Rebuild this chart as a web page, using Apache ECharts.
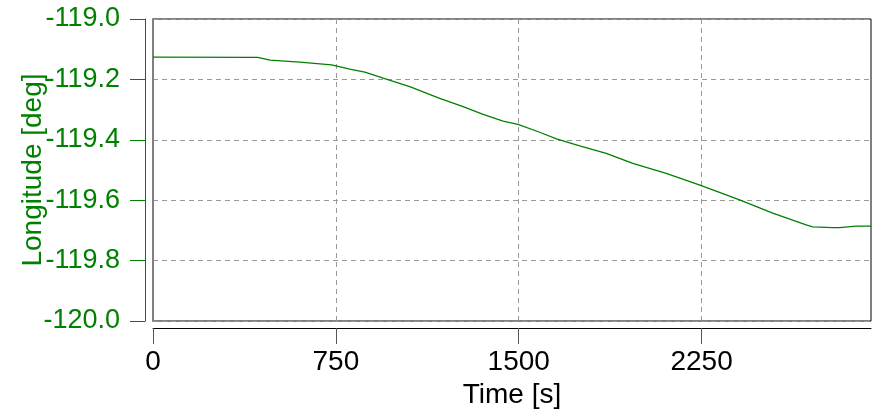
<!DOCTYPE html>
<html>
<head>
<meta charset="utf-8">
<script src="https://cdn.jsdelivr.net/npm/echarts@6/dist/echarts.min.js"></script>
<style>
html,body{margin:0;padding:0;background:#fff;}
#chart{width:874px;height:417px;}
</style>
</head>
<body>
<div id="chart"></div>
<script>
// Data
const timeS = [0, 430, 480, 602, 732, 807, 869, 944, 1053, 1176, 1272, 1354, 1436, 1497, 1586, 1655, 1750, 1859, 1968, 2105, 2249, 2406, 2542, 2679, 2706, 2788, 2816, 2884, 2945];
const longitudeDeg = [-119.126, -119.127, -119.136, -119.143, -119.152, -119.166, -119.176, -119.196, -119.224, -119.263, -119.290, -119.316, -119.338, -119.349, -119.375, -119.397, -119.420, -119.445, -119.478, -119.511, -119.552, -119.599, -119.643, -119.682, -119.688, -119.691, -119.691, -119.686, -119.686];
const xTicks = [0, 750, 1500, 2250];
const yMin = -120.0, yMax = -119.0, yStep = 0.2;
const xMin = 0, xMax = 2945, xStep = 750;
const xName = 'Time [s]';
const yName = 'Longitude [deg]';

const FONT = '"Liberation Sans", Arial, sans-serif';
const GREEN = '#008000';

const chart = echarts.init(document.getElementById('chart'), null, {renderer: 'canvas'});
chart.setOption({
  animation: false,
  backgroundColor: '#ffffff',
  grid: {
    left: 153, right: 3, top: 19, bottom: 96,
    containLabel: false,
    outerBoundsMode: 'none',
    show: true, borderColor: '#000000', borderWidth: 1, backgroundColor: 'transparent'
  },
  xAxis: {
    type: 'value',
    min: xMin, max: xMax, interval: xStep,
    position: 'bottom',
    offset: 7,
    name: xName,
    nameLocation: 'middle',
    nameGap: 53,
    nameMoveOverlap: false,
    nameTextStyle: {color: '#000', fontSize: 28, fontFamily: FONT},
    axisLine: {show: true, onZero: false, lineStyle: {color: '#000', width: 1}},
    axisTick: {show: true, length: 16, inside: false, lineStyle: {color: '#555', width: 1}, customValues: xTicks},
    axisLabel: {show: true, margin: 20, color: '#000', fontSize: 28, fontFamily: FONT, customValues: xTicks,
      formatter: v => String(v)},
    splitLine: {show: true, lineStyle: {color: '#999', type: [5, 4], width: 1}}
  },
  yAxis: [{
    type: 'value',
    min: yMin, max: yMax, interval: yStep,
    position: 'left',
    offset: 8,
    name: yName,
    nameLocation: 'middle',
    nameRotate: 90,
    nameGap: 98,
    nameMoveOverlap: false,
    nameTextStyle: {color: GREEN, fontSize: 28, fontFamily: FONT},
    axisLine: {show: true, onZero: false, lineStyle: {color: GREEN, width: 1}},
    axisTick: {show: true, length: 15, inside: false, lineStyle: {color: GREEN, width: 1}},
    axisLabel: {show: true, margin: 25, color: GREEN, fontSize: 27, fontFamily: FONT,
      formatter: v => v.toFixed(1)},
    splitLine: {show: true, lineStyle: {color: '#999', type: [5, 4], width: 1}}
  }, {
    type: 'value',
    min: yMin, max: yMax, interval: yStep,
    position: 'left',
    offset: 0,
    axisLine: {show: true, onZero: false, lineStyle: {color: '#808080', width: 2}},
    axisTick: {show: false},
    axisLabel: {show: false},
    splitLine: {show: false}
  }],
  series: [{
    type: 'line',
    yAxisIndex: 0,
    data: timeS.map((t, i) => [t, longitudeDeg[i]]),
    showSymbol: false,
    symbol: 'none',
    smooth: false,
    lineStyle: {color: GREEN, width: 1.3},
    z: 3
  }]
});
</script>
</body>
</html>
